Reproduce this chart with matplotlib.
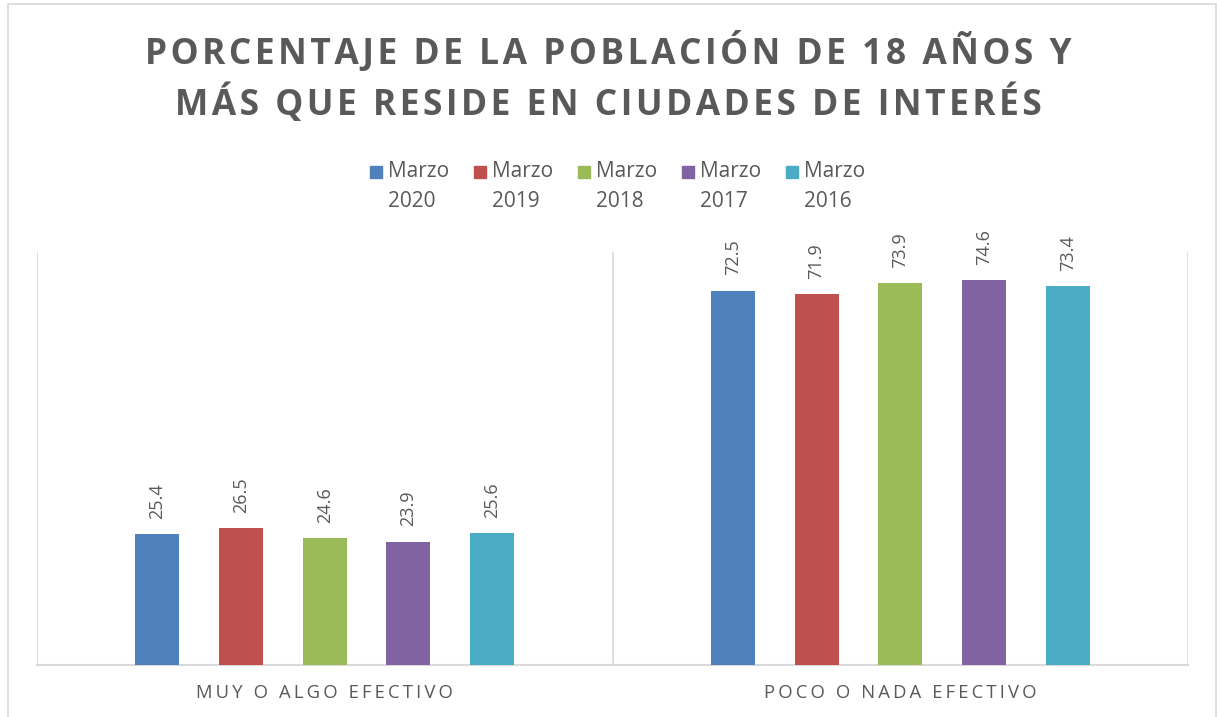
import matplotlib.pyplot as plt
from matplotlib.patches import Rectangle

categorias = ["MUY O ALGO EFECTIVO", "POCO O NADA EFECTIVO"]
series = ["Marzo\n2020", "Marzo\n2019", "Marzo\n2018", "Marzo\n2017", "Marzo\n2016"]
valores = [
    [25.4, 72.5],
    [26.5, 71.9],
    [24.6, 73.9],
    [23.9, 74.6],
    [25.6, 73.4],
]
colores = ["#4F81BD", "#C0504D", "#9BBB59", "#8064A2", "#4BACC6"]
gris = "#595959"

plt.rcParams['font.family'] = ['Open Sans', 'DejaVu Sans']

def espaciar(s, sep="\u2009"):
    return sep.join(s)

W, H = 1217, 717
fig = plt.figure(figsize=(W / 100, H / 100), dpi=100)
ax = fig.add_axes([37 / W, 1 - 665 / H, 1151 / W, 413 / H])

paso = 0.1455
ancho = 0.0765
for i, (serie, vals) in enumerate(zip(series, valores)):
    xs = [c + (i - 2) * paso for c in range(len(categorias))]
    ax.bar(xs, vals, width=ancho, color=colores[i], zorder=3)
    for x, v in zip(xs, vals):
        ax.annotate(f"{v:.1f}", (x, v), xytext=(0, 11), textcoords="offset points",
                    rotation=90, ha="center", va="bottom", fontsize=13, color=gris)

ax.set_xlim(-0.5, 1.5)
ax.set_ylim(0, 80)
ax.set_yticks([])
ax.set_xticks([0, 1])
ax.set_xticklabels([espaciar(c) for c in categorias], fontsize=13.3, color=gris)
ax.tick_params(axis="x", length=0, pad=14)
for x in [-0.5, 0.5, 1.5]:
    ax.axvline(x, color="#D9D9D9", linewidth=1.2, zorder=1)
for s in ["top", "left", "right"]:
    ax.spines[s].set_visible(False)
ax.spines["bottom"].set_color("#D9D9D9")
ax.spines["bottom"].set_linewidth(1.5)

fig.text(0.5, 1 - 78 / H,
         espaciar("PORCENTAJE DE LA POBLACIÓN DE 18 AÑOS Y", "\u200a") + "\n" +
         espaciar("MÁS QUE RESIDE EN CIUDADES DE INTERÉS", "\u200a"),
         ha="center", va="center", fontsize=25.5, fontweight="bold", color=gris,
         linespacing=1.38)

# leyenda
x0 = 370
dx = 104
for i, (serie, col) in enumerate(zip(series, colores)):
    xl = x0 + i * dx
    fig.patches.append(Rectangle((xl / W, 1 - 178 / H), 12 / W, 12 / H,
                                 transform=fig.transFigure, color=col))
    fig.text((xl + 18) / W, 1 - 161 / H, serie, ha="left", va="top",
             fontsize=15, color=gris, linespacing=1.55)

fig.patches.append(Rectangle((8 / W, -0.02), 1208 / W, 1 - 4 / H + 0.02,
                             transform=fig.transFigure, fill=False,
                             edgecolor="#D9D9D9", linewidth=1.2))

fig.savefig("out.png", dpi=100)
